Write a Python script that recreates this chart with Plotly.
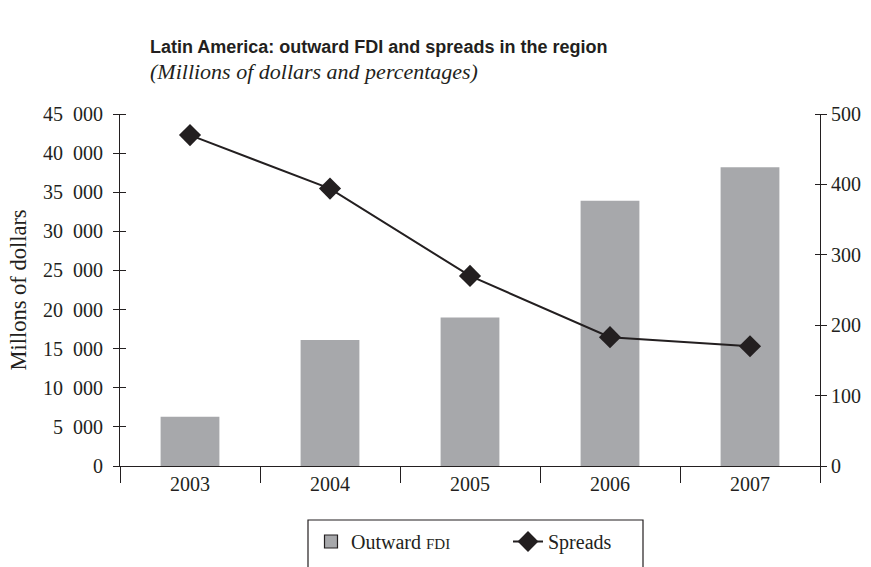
import plotly.graph_objects as go

# Data
years = ["2003", "2004", "2005", "2006", "2007"]
outward_fdi = [6300, 16100, 19000, 33900, 38200]
spreads = [470, 394, 270, 183, 170]

left_ticks = [0, 5000, 10000, 15000, 20000, 25000, 30000, 35000, 40000, 45000]
left_ticktext = ["0", "5\u2002000", "10\u2002000", "15\u2002000", "20\u2002000",
                 "25\u2002000", "30\u2002000", "35\u2002000", "40\u2002000", "45\u2002000"]
right_ticks = [0, 100, 200, 300, 400, 500]

serif = "Liberation Serif, Times New Roman, serif"
sans = "Liberation Sans, Arial, sans-serif"
ink = "#231F20"
bar_gray = "#A7A8AB"

fig = go.Figure()

fig.add_trace(go.Bar(
    x=years, y=outward_fdi,
    name="Outward FDI",
    marker=dict(color=bar_gray, line=dict(width=0)),
    width=0.42,
    yaxis="y",
    showlegend=False,
))

# legend swatch for the bars (grey square with dark outline)
fig.add_trace(go.Scatter(
    x=[None], y=[None], mode="markers",
    name="Outward <span style='font-size:15px'>FDI</span>",
    marker=dict(symbol="square", size=13, color=bar_gray, line=dict(color=ink, width=1.2)),
))

fig.add_trace(go.Scatter(
    x=years, y=spreads,
    name="Spreads",
    mode="lines+markers",
    line=dict(color=ink, width=2),
    marker=dict(symbol="diamond", size=17, color=ink),
    yaxis="y2",
))

# invisible helpers so the extra tick axes (inner half of the cross ticks) render
fig.add_trace(go.Scatter(x=[years[0]], y=[0], yaxis="y3", mode="markers",
                         marker=dict(opacity=0), showlegend=False, hoverinfo="skip"))
fig.add_trace(go.Scatter(x=[years[0]], y=[0], yaxis="y4", mode="markers",
                         marker=dict(opacity=0), showlegend=False, hoverinfo="skip"))

axis_common = dict(showgrid=False, zeroline=False, linecolor=ink, linewidth=1.2,
                   tickcolor=ink, tickwidth=1.2, ticklen=6, automargin=False)
tick_in = 6 / 700  # inner tick length as a fraction of the plot width

fig.update_layout(
    width=871, height=567,
    margin=dict(l=120, r=51, t=114, b=101),
    paper_bgcolor="white", plot_bgcolor="white",
    font=dict(family=serif, size=20, color=ink),
    xaxis=dict(
        type="category", range=[-0.5, 4.5], automargin=False,
        showline=True, linecolor=ink, linewidth=1.2,
        ticks="outside", tickson="boundaries", ticklen=16, tickcolor=ink, tickwidth=1.2,
        showgrid=False, tickfont=dict(family=serif, size=20, color=ink),
    ),
    yaxis=dict(
        **axis_common, range=[0, 45000], tickvals=left_ticks, ticktext=left_ticktext,
        ticks="outside", showline=True, side="left", ticklabelstandoff=6,
        title=dict(text="Millons of dollars", font=dict(family=serif, size=22.5), standoff=10),
        tickfont=dict(family=serif, size=20, color=ink),
    ),
    yaxis2=dict(
        **axis_common, range=[0, 500], tickvals=right_ticks,
        ticks="outside", showline=True, side="right", overlaying="y", anchor="x",
        tickfont=dict(family=serif, size=20, color=ink),
    ),
    yaxis3=dict(
        **axis_common, range=[0, 45000], tickvals=left_ticks, ticks="outside",
        showticklabels=False, showline=False, overlaying="y", side="left",
        anchor="free", position=tick_in,
    ),
    yaxis4=dict(
        **axis_common, range=[0, 500], tickvals=right_ticks, ticks="outside",
        showticklabels=False, showline=False, overlaying="y", side="right",
        anchor="free", position=1 - tick_in,
    ),
    showlegend=True,
    legend=dict(
        orientation="h", xref="container", yref="container",
        x=311 / 871, xanchor="left",
        y=(567 - 522) / 567, yanchor="top",
        borderwidth=0, bgcolor="rgba(0,0,0,0)",
        font=dict(family=serif, size=20, color=ink),
        entrywidthmode="pixels", entrywidth=152,
    ),
    annotations=[
        dict(text="<b>Latin America: outward FDI and spreads in the region</b>",
             xref="paper", yref="paper", x=(148 - 120) / 700, y=(466 - 47) / 352,
             xanchor="left", yanchor="middle", showarrow=False,
             font=dict(family=sans, size=18, color=ink)),
        dict(text="<i>(Millions of dollars and percentages)</i>",
             xref="paper", yref="paper", x=(148 - 120) / 700, y=(466 - 72) / 352,
             xanchor="left", yanchor="middle", showarrow=False,
             font=dict(family=serif, size=22, color=ink)),
    ],
    shapes=[
        # legend frame, open at the bottom edge of the page
        dict(type="rect", xref="paper", yref="paper",
             x0=(308 - 120) / 700, x1=(643 - 120) / 700,
             y0=(466 - 575) / 352, y1=(466 - 520) / 352,
             line=dict(color=ink, width=1.2), fillcolor="rgba(0,0,0,0)", layer="above"),
    ],
)

fig.write_html(
    "out.html",
    config={"displayModeBar": False},
    post_script="document.body.style.margin='0';document.body.style.overflow='hidden';",
)
